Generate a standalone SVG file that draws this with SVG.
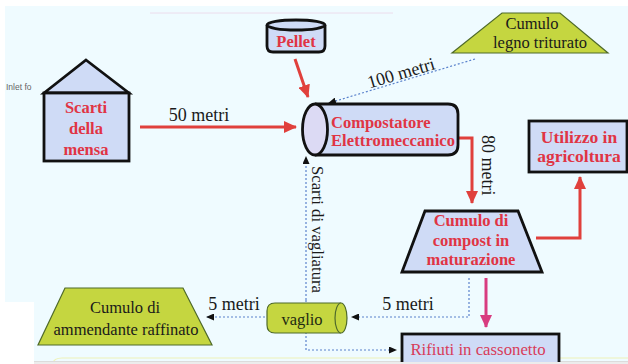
<svg xmlns="http://www.w3.org/2000/svg" width="628" height="364" viewBox="0 0 628 364">
<defs>
<style>
.bg{fill:#effbff}
.blue{fill:#cfdbf6;stroke:#111;stroke-width:2.8}
.green{fill:#c5d640;stroke:#4f6a2a;stroke-width:1.2}
.rt{font-family:"Liberation Serif","Times New Roman",serif;font-weight:bold;font-size:16.5px;fill:#e03444;text-anchor:middle}
.bt{font-family:"Liberation Serif","Times New Roman",serif;font-size:16.5px;fill:#1a1a1a;text-anchor:middle}
.lb{font-family:"Liberation Serif","Times New Roman",serif;font-size:18px;fill:#1a1a1a}
.red{fill:none;stroke:#e0403c;stroke-width:3}
.pink{fill:none;stroke:#d83c80;stroke-width:3}
.dot{fill:none;stroke:#5a82cc;stroke-width:1.2;stroke-dasharray:2 2}
</style>
<marker id="ar" markerUnits="userSpaceOnUse" markerWidth="13" markerHeight="12" refX="12" refY="6" orient="auto"><path d="M0,0 L13,6 L0,12 z" fill="#e0403c"/></marker>
<marker id="ap" markerUnits="userSpaceOnUse" markerWidth="13" markerHeight="12" refX="12" refY="6" orient="auto"><path d="M0,0 L13,6 L0,12 z" fill="#d83c80"/></marker>
<marker id="ak" markerUnits="userSpaceOnUse" markerWidth="8" markerHeight="7" refX="7" refY="3.5" orient="auto"><path d="M0,0 L8,3.5 L0,7 z" fill="#111"/></marker>
</defs>
<rect width="628" height="364" fill="#ffffff"/>
<rect class="bg" x="5" y="6" width="623" height="296"/>
<rect class="bg" x="34" y="300" width="594" height="62"/>
<line x1="150" y1="13" x2="393" y2="13" stroke="#ecdcec" stroke-width="1"/>
<path d="M52,364 Q54,358 62,358 H628" fill="none" stroke="#eef2b8" stroke-width="1.2"/>
<rect x="34" y="361" width="594" height="3" fill="#dcdcdc"/>
<text x="6" y="90" font-family="Liberation Sans,Arial,sans-serif" font-size="8.5" fill="#666">Inlet fo</text>

<g id="connectors">
<line class="red" x1="140" y1="127" x2="296" y2="127" marker-end="url(#ar)"/>
<line class="red" x1="295" y1="59" x2="308" y2="97" marker-end="url(#ar)"/>
<polyline class="red" points="456,138 472,138 472,203" marker-end="url(#ar)"/>
<polyline class="red" points="536,238 580,238 580,177" marker-end="url(#ar)"/>
<line class="pink" x1="486" y1="278" x2="486" y2="327" marker-end="url(#ap)"/>
<line class="dot" x1="475" y1="59" x2="329" y2="103" marker-end="url(#ak)"/>
<path class="dot" d="M306,300 V157" marker-end="url(#ak)"/>
<path class="dot" d="M306,300 V350 H396" marker-end="url(#ak)"/>
<path class="dot" d="M469,278 V317 H352" marker-end="url(#ak)"/>
<path class="dot" d="M265,317 H207" marker-end="url(#ak)"/>
<text class="lb" x="199" y="121" style="text-anchor:middle">50 metri</text>
<text class="lb" x="401" y="79" style="text-anchor:middle" transform="rotate(-16.5 401 73)">100 metri</text>
<text class="lb" x="482" y="135" transform="rotate(90 482 135)">80 metri</text>
<text class="lb" x="312" y="166" style="font-size:16.7px" transform="rotate(90 312 166)">Scarti di vagliatura</text>
<text class="lb" x="234" y="310" style="text-anchor:middle">5 metri</text>
<text class="lb" x="408" y="310" style="text-anchor:middle">5 metri</text>
</g>

<g id="scarti-mensa">
<polygon class="blue" points="86,60 129,93 44,93"/>
<rect class="blue" x="44" y="93" width="85" height="68"/>
<text class="rt" x="86" y="113">Scarti</text>
<text class="rt" x="86" y="134">della</text>
<text class="rt" x="86" y="155">mensa</text>
</g>

<g id="pellet">
<path class="blue" d="M267,25 V46 Q267,52 273,52 H319 Q325,52 325,46 V25"/>
<ellipse class="blue" cx="296" cy="25" rx="29" ry="5"/>
<text class="rt" x="296" y="47">Pellet</text>
</g>

<g id="cumulo-legno">
<polygon class="green" points="502,13 560,13 608,53 452,53"/>
<text class="bt" x="532" y="29">Cumulo</text>
<text class="bt" x="540" y="48">legno triturato</text>
</g>

<g id="compostatore">
<path class="blue" d="M315,104 H448 Q458,104 458,114 V145 Q458,155 448,155 H315"/>
<ellipse cx="315" cy="129.5" rx="12.5" ry="25.5" fill="#dcdaf4" stroke="#111" stroke-width="2.8"/>
<text class="rt" x="331" y="128" style="text-anchor:start">Compostatore</text>
<text class="rt" x="331" y="146" style="text-anchor:start" textLength="124">Elettromeccanico</text>
</g>

<g id="utilizzo">
<rect class="blue" x="529" y="121" width="98" height="51"/>
<text class="rt" x="579" y="143" style="font-size:17.5px">Utilizzo in</text>
<text class="rt" x="579" y="162" style="font-size:17.5px">agricoltura</text>
</g>

<g id="cumulo-compost">
<polygon class="blue" points="425,211 518,211 542,272 402,272"/>
<text class="rt" x="471" y="226">Cumulo di</text>
<text class="rt" x="471" y="246">compost in</text>
<text class="rt" x="471" y="265">maturazione</text>
</g>

<g id="vaglio">
<path class="green" d="M341,303 H275 Q267,303 267,311 V325 Q267,333 275,333 H341"/>
<ellipse class="green" cx="341" cy="318" rx="6" ry="15"/>
<text class="bt" x="302" y="325" style="fill:#1e2a12">vaglio</text>
</g>

<g id="ammendante">
<polygon class="green" points="65,288 183,288 212,345 38,345"/>
<text class="bt" x="125" y="313">Cumulo di</text>
<text class="bt" x="126" y="335">ammendante raffinato</text>
</g>

<g id="rifiuti">
<rect class="blue" x="402" y="334" width="157" height="34"/>
<text x="478" y="355" text-anchor="middle" font-family="Liberation Serif,Times New Roman,serif" font-size="16.8" fill="#d83c5a">Rifiuti in cassonetto</text>
</g>
<rect x="34" y="362" width="594" height="2" fill="#ececec"/>
</svg>
